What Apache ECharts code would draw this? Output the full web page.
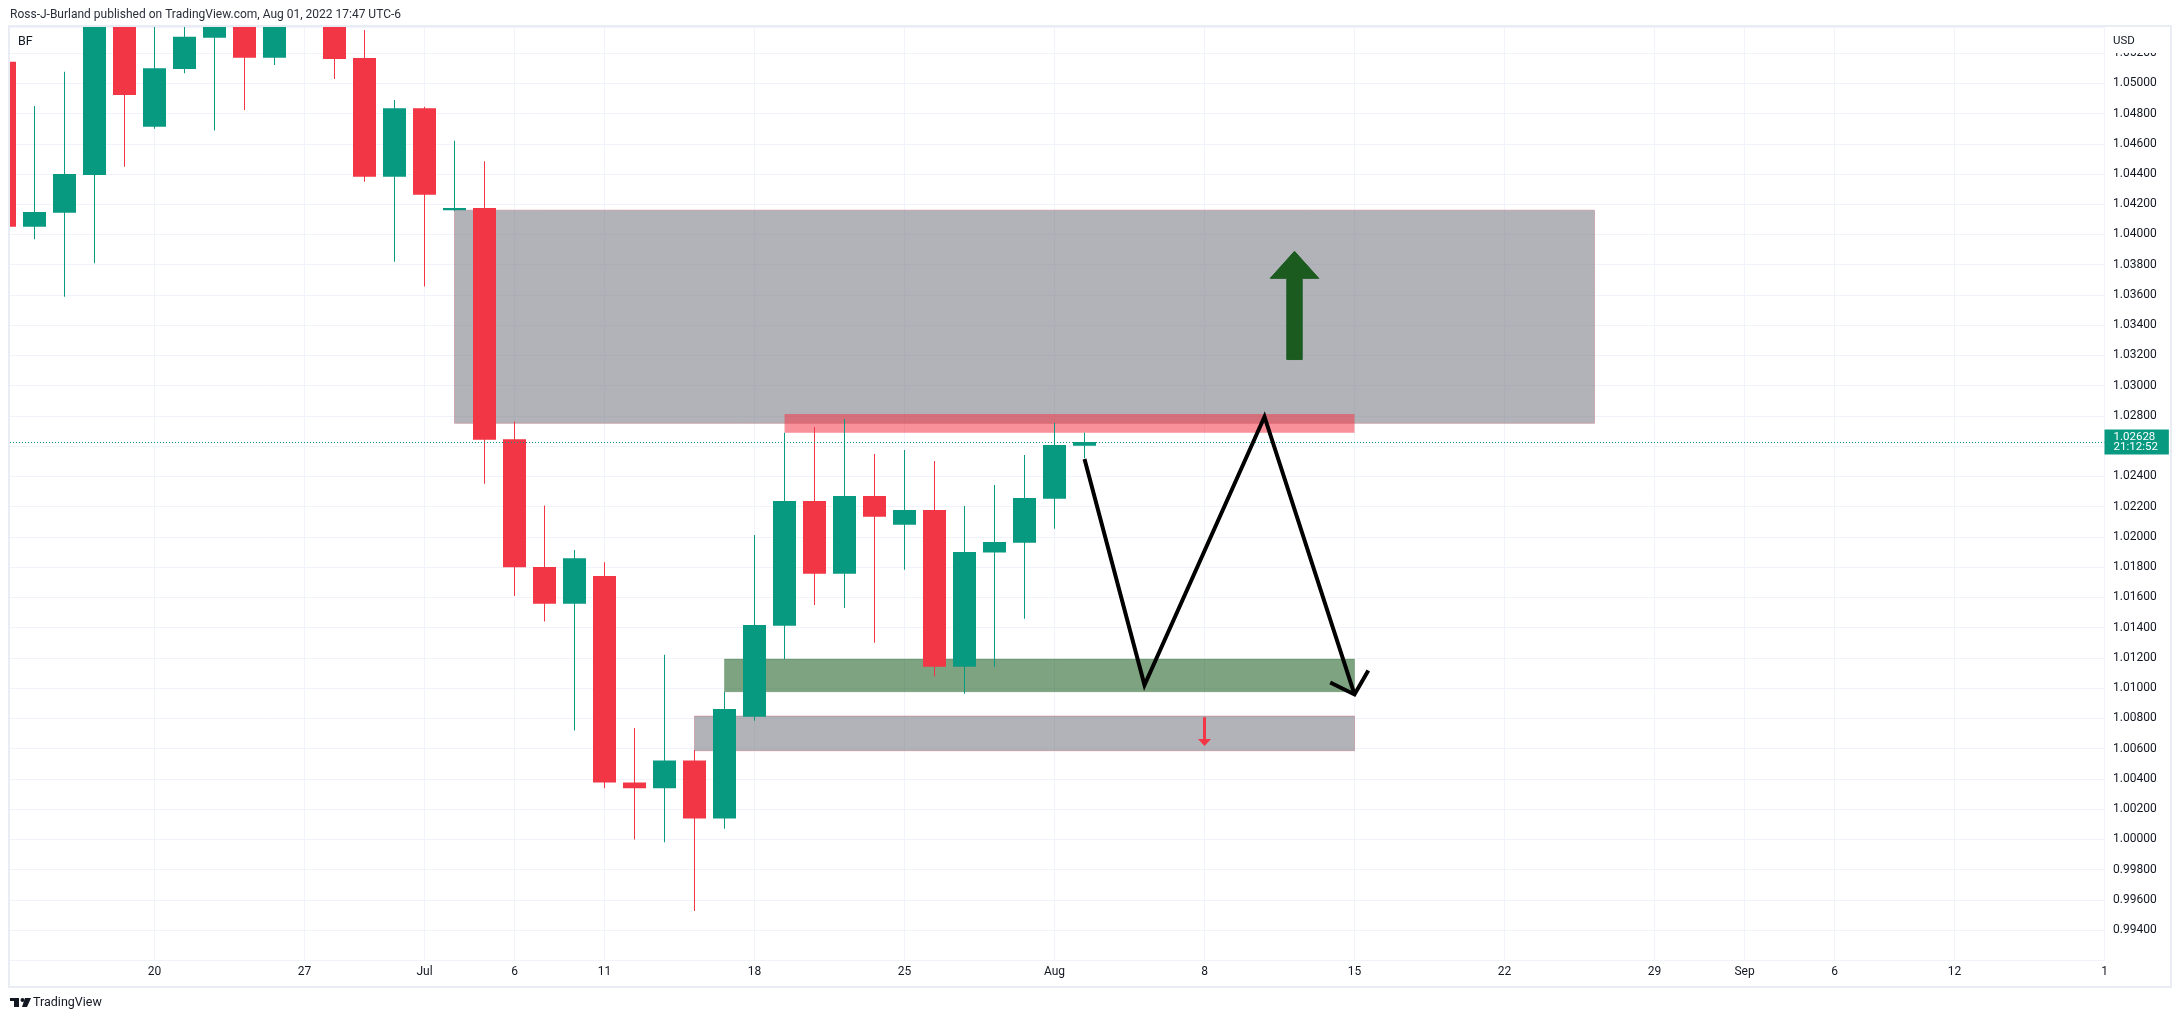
<!DOCTYPE html>
<html>
<head>
<meta charset="utf-8">
<script src="https://cdn.jsdelivr.net/npm/echarts@6/dist/echarts.min.js"></script>
<style>html,body{margin:0;padding:0;background:#fff}#chart{width:2181px;height:1022px}</style>
</head>
<body>
<div id="chart"></div>
<script>
// ---------------- DATA ----------------
const candleDates = ['2022-06-13','2022-06-14','2022-06-15','2022-06-16','2022-06-17','2022-06-20','2022-06-21','2022-06-22','2022-06-23','2022-06-24','2022-06-27','2022-06-28','2022-06-29','2022-06-30','2022-07-01','2022-07-04','2022-07-05','2022-07-06','2022-07-07','2022-07-08','2022-07-11','2022-07-12','2022-07-13','2022-07-14','2022-07-15','2022-07-18','2022-07-19','2022-07-20','2022-07-21','2022-07-22','2022-07-25','2022-07-26','2022-07-27','2022-07-28','2022-07-29','2022-08-01','2022-08-02'];
const openVals  = [1.05143,1.04052,1.04144,1.04394,1.05510,1.04713,1.05095,1.05302,1.05670,1.05169,1.05540,1.05820,1.05167,1.04382,1.04835,1.04160,1.04175,1.02646,1.01801,1.01558,1.01742,1.00376,1.00337,1.00521,1.00138,1.00811,1.01413,1.02237,1.01757,1.02270,1.02081,1.02178,1.01142,1.01896,1.01962,1.02253,1.02603];
const closeVals = [1.04052,1.04149,1.04400,1.05510,1.04923,1.05099,1.05308,1.05670,1.05169,1.05540,1.05820,1.05161,1.04382,1.04835,1.04263,1.04175,1.02643,1.01799,1.01558,1.01859,1.00376,1.00337,1.00521,1.00138,1.00862,1.01417,1.02237,1.01757,1.02270,1.02134,1.02178,1.01142,1.01900,1.01966,1.02257,1.02608,1.02628];
const lowVals   = [1.03980,1.03968,1.03589,1.03810,1.04448,1.04700,1.05066,1.04687,1.04823,1.05121,1.05450,1.05028,1.04349,1.03820,1.03656,1.04155,1.02352,1.01609,1.01441,1.00720,1.00337,0.99999,0.99980,0.99526,1.00070,1.00784,1.01192,1.01550,1.01530,1.01300,1.01783,1.01076,1.00963,1.01142,1.01459,1.02054,1.02520];
const highVals  = [1.05240,1.04850,1.05077,1.06010,1.05690,1.05450,1.05820,1.06060,1.06130,1.05700,1.06150,1.06060,1.05353,1.04890,1.04845,1.04620,1.04485,1.02764,1.02207,1.01913,1.01833,1.00736,1.01220,1.00591,1.00976,1.02013,1.02689,1.02727,1.02779,1.02548,1.02575,1.02502,1.02204,1.02343,1.02542,1.02753,1.02689];

const timeTickDates  = ['2022-06-20','2022-06-27','2022-07-01','2022-07-06','2022-07-11','2022-07-18','2022-07-25','2022-08-01','2022-08-08','2022-08-15','2022-08-22','2022-08-29','2022-09-01','2022-09-06','2022-09-12','2022-09-19'];
const timeTickLabels = ['20','27','Jul','6','11','18','25','Aug','8','15','22','29','Sep','6','12','1'];

const priceMin = 0.992, priceMax = 1.05372, priceStep = 0.002;
const hiddenPriceTicks = [1.026];

const currentPrice = 1.02628;
const countdownText = '21:12:52';

// zones (rectangles)
const zoneKind   = ['gray','green','gray','red'];
const zoneStart  = ['2022-07-04','2022-07-15','2022-07-14','2022-07-19'];
const zoneEnd    = ['2022-08-25','2022-08-15','2022-08-15','2022-08-15'];
const zoneTop    = [1.04161,1.01192,1.00815,1.02813];
const zoneBottom = [1.02751,1.00976,1.00586,1.02689];

// projected zig-zag path
const pathDates  = ['2022-08-02','2022-08-04','2022-08-10','2022-08-15'];
const pathPrices = [1.02515,1.01020,1.02795,1.00958];
// arrow head barbs of the path (bar index, price)
const barbBars   = [44.19,45,45.46];
const barbPrices = [1.01037,1.00958,1.01116];

// big green up arrow: tip, head base, tail
const upArrowDate = '2022-08-11';
const upArrowPrices = [1.03889,1.03710,1.03173];
// small red down arrow: tail, head base, tip
const downArrowDate = '2022-08-08';
const downArrowPrices = [1.00808,1.00663,1.00617];

// ---------------- HELPERS ----------------
const dayIndex = {};
(function(){
  const d = new Date(Date.UTC(2022,5,13));
  let i = 0;
  while (i < 90) {
    const wd = d.getUTCDay();
    if (wd !== 0 && wd !== 6) { dayIndex[d.toISOString().slice(0,10)] = i; i++; }
    d.setUTCDate(d.getUTCDate()+1);
  }
})();
const bi = s => dayIndex[s];

const candleData = candleDates.map((d,i)=>[bi(d), openVals[i], closeVals[i], lowVals[i], highVals[i]]);
const tickIdx = timeTickDates.map(bi);
const labelByIdx = {};
tickIdx.forEach((x,i)=>labelByIdx[x]=timeTickLabels[i]);
const zoneData = zoneKind.map((k,i)=>[bi(zoneStart[i]), bi(zoneEnd[i]), zoneTop[i], zoneBottom[i]]);
const pathData = pathDates.map((d,i)=>[bi(d), pathPrices[i]]);
const barbData = barbBars.map((b,i)=>[b, barbPrices[i]]);

const UP = '#089981', DOWN = '#f23645', TXT = '#131722', GRID = '#f0f3fa';
const FONT = 'Roboto';
const zoneStyles = {
  gray:  {fill:'rgba(115,117,127,0.55)', stroke:'rgba(190,110,125,0.45)'},
  green: {fill:'rgba(27,94,32,0.57)',   stroke:'rgba(27,94,32,0.25)'},
  red:   {fill:'rgba(242,54,69,0.55)',  stroke:null}
};

// layout
const gridLeft = 10, gridRight = 76.5, gridTop = 27.05, gridBottom = 61.74;
const xMin = 0.18333, xMax = 70;

const chart = echarts.init(document.getElementById('chart'), null, {renderer:'canvas'});

function renderCandle(params, api){
  const x = api.value(0), o = api.value(1), c = api.value(2), l = api.value(3), h = api.value(4);
  const pO = api.coord([x,o]), pC = api.coord([x,c]), pL = api.coord([x,l]), pH = api.coord([x,h]);
  const bw = Math.round(api.size([1,0])[0]*0.77);
  const cx = pO[0];
  const color = c >= o ? UP : DOWN;
  const top = Math.min(pO[1], pC[1]);
  const bh = Math.max(2, Math.abs(pO[1]-pC[1]));
  return {type:'group', children:[
    {type:'rect', shape:{x:Math.floor(cx), y:pH[1], width:1, height:pL[1]-pH[1]}, style:{fill:color}},
    {type:'rect', shape:{x:Math.round(cx-bw/2), y:top, width:bw, height:bh}, style:{fill:color}}
  ]};
}
function renderZone(params, api){
  const s = api.coord([api.value(0), api.value(2)]);
  const e = api.coord([api.value(1), api.value(3)]);
  const st = zoneStyles[zoneKind[params.dataIndex]];
  return {type:'rect', shape:{x:s[0], y:s[1], width:e[0]-s[0], height:e[1]-s[1]},
    style:{fill:st.fill, stroke:st.stroke || null, lineWidth: st.stroke ? 1 : 0}};
}
function renderUpArrow(params, api){
  const x = api.value(0);
  const tip = api.coord([x, api.value(1)]), base = api.coord([x, api.value(2)]), tail = api.coord([x, api.value(3)]);
  const cx = tip[0], sw = 7.7, hw = 24.3;
  return {type:'polygon', shape:{points:[[cx-sw,tail[1]],[cx-sw,base[1]],[cx-hw,base[1]],[cx,tip[1]],[cx+hw,base[1]],[cx+sw,base[1]],[cx+sw,tail[1]]]},
    style:{fill:'#1c5b20', stroke:'#1c5b20', lineWidth:1, lineJoin:'round'}};
}
function renderDownArrow(params, api){
  const x = api.value(0);
  const tail = api.coord([x, api.value(1)]), base = api.coord([x, api.value(2)]), tip = api.coord([x, api.value(3)]);
  const cx = tip[0], sw = 1.5, hw = 6.5;
  return {type:'polygon', shape:{points:[[cx-sw,tail[1]],[cx-sw,base[1]],[cx-hw,base[1]],[cx,tip[1]],[cx+hw,base[1]],[cx+sw,base[1]],[cx+sw,tail[1]]]},
    style:{fill:DOWN}};
}

const option = {
  animation:false,
  backgroundColor:'#ffffff',
  textStyle:{fontFamily:FONT},
  grid:{left:gridLeft, right:gridRight, top:gridTop, bottom:gridBottom, containLabel:false},
  xAxis:{type:'value', min:xMin, max:xMax,
    axisLine:{show:false},
    axisTick:{show:false, customValues:tickIdx},
    axisLabel:{customValues:tickIdx, showMinLabel:true, showMaxLabel:true, formatter:v=>labelByIdx[v]||'', color:TXT, fontSize:12, fontFamily:FONT, margin:6},
    splitLine:{show:true, lineStyle:{color:GRID, width:1}}
  },
  yAxis:{type:'value', position:'right', min:priceMin, max:priceMax, interval:priceStep,
    axisLine:{show:false}, axisTick:{show:false},
    axisLabel:{showMinLabel:false, showMaxLabel:false, margin:8.5, color:TXT, fontSize:12, fontFamily:FONT,
      formatter:v=>hiddenPriceTicks.some(t=>Math.abs(t-v)<1e-7)?'':v.toFixed(5)},
    splitLine:{show:true, lineStyle:{color:GRID, width:1}}
  },
  series:[
    {type:'custom', name:'zones', z:2, clip:true, renderItem:renderZone, encode:{x:[0,1], y:[2,3]}, data:zoneData, silent:true},
    {type:'custom', name:'EURUSD', z:3, clip:true, renderItem:renderCandle, encode:{x:0, y:[1,2,3,4]}, data:candleData, silent:true},
    {type:'custom', name:'up', z:4, clip:true, renderItem:renderUpArrow, encode:{x:0, y:[1,2,3]}, data:[[bi(upArrowDate)].concat(upArrowPrices)], silent:true},
    {type:'custom', name:'down', z:4, clip:true, renderItem:renderDownArrow, encode:{x:0, y:[1,2,3]}, data:[[bi(downArrowDate)].concat(downArrowPrices)], silent:true},
    {type:'line', name:'path', z:5, data:pathData, showSymbol:false, symbol:'none', silent:true,
      lineStyle:{color:'#000', width:4, join:'miter', cap:'butt'},
      markLine:{silent:true, symbol:['none','none'], animation:false, precision:6,
        lineStyle:{color:UP, type:[1,2], width:1},
        label:{show:true, position:'end', distance:0,
          formatter:()=>'{a|'+currentPrice.toFixed(5)+'}\n{b|'+countdownText+'}',
          backgroundColor:UP, padding:[3,11,2,9], color:'#fff',
          rich:{a:{fontSize:11.5, lineHeight:10, color:'#fff', fontFamily:FONT}, b:{fontSize:11.5, lineHeight:10, color:'#fff', fontFamily:FONT}}},
        emphasis:{disabled:true},
        data:[{yAxis:currentPrice}]}
    },
    {type:'line', name:'barb', z:5, data:barbData, showSymbol:false, symbol:'none', silent:true,
      lineStyle:{color:'#000', width:4, join:'miter', cap:'butt'}}
  ],
  graphic:{elements:[
    {type:'rect', z:100, silent:true, shape:{x:9, y:26, width:2162, height:961}, style:{fill:null, stroke:'#e9ecf2', lineWidth:2}},
    {type:'text', z:100, x:10, y:15, style:{text:'Ross-J-Burland published on TradingView.com, Aug 01, 2022 17:47 UTC-6', fontSize:12, fontFamily:FONT, fill:'#2a2e39', verticalAlign:'middle'}},
    {type:'text', z:100, x:18, y:42, style:{text:'BF', fontSize:12.5, fontFamily:FONT, fill:TXT, verticalAlign:'middle'}},
    {type:'rect', z:100, silent:true, shape:{x:2106, y:29, width:62, height:24}, style:{fill:'#fff'}},
    {type:'text', z:101, x:2113, y:41, style:{text:'USD', fontSize:11.5, fontFamily:FONT, fill:TXT, verticalAlign:'middle'}},
    {type:'rect', z:100, shape:{x:10, y:998, width:9, height:3}, style:{fill:TXT}},
    {type:'rect', z:100, shape:{x:14, y:998, width:5, height:9}, style:{fill:TXT}},
    {type:'circle', z:100, shape:{cx:22.5, cy:1000, r:2}, style:{fill:TXT}},
    {type:'polygon', z:100, shape:{points:[[25,998],[31,998],[27,1007],[22,1007]]}, style:{fill:TXT}},
    {type:'text', z:100, x:33, y:1003, style:{text:'TradingView', fontSize:12.5, fontFamily:FONT, fill:TXT, verticalAlign:'middle'}}
  ]}
};
chart.setOption(option);
</script>
</body>
</html>
